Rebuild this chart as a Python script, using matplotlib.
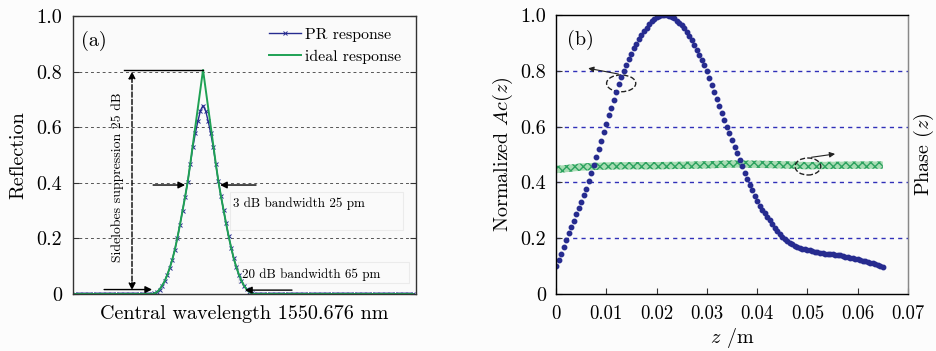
import numpy as np
import matplotlib
matplotlib.use('Agg')
import matplotlib.pyplot as plt
from matplotlib.patches import Ellipse, Rectangle

plt.rcParams['font.family'] = ['cmr10', 'DejaVu Serif']
plt.rcParams['mathtext.fontset'] = 'cm'
plt.rcParams['axes.unicode_minus'] = False

# ---- (a) reflection spectrum, offset from 1550.676 nm in pm ----
peak_offset = np.arange(-40, 42, 2)
ideal_peak = [0.000, 0.002, 0.007, 0.016, 0.030, 0.046, 0.068, 0.094, 0.124, 0.160,
              0.203, 0.250, 0.300, 0.350, 0.403, 0.468, 0.536, 0.603, 0.671, 0.738,
              0.806,
              0.738, 0.671, 0.603, 0.536, 0.468, 0.405, 0.352, 0.302, 0.254, 0.208,
              0.166, 0.128, 0.097, 0.070, 0.048, 0.030, 0.017, 0.008, 0.003, 0.000]
pr_peak = [0.000, 0.002, 0.007, 0.016, 0.030, 0.046, 0.068, 0.094, 0.124, 0.160,
           0.203, 0.250, 0.300, 0.350, 0.403, 0.466, 0.528, 0.578, 0.622, 0.660,
           0.678,
           0.660, 0.622, 0.578, 0.528, 0.466, 0.405, 0.352, 0.302, 0.254, 0.208,
           0.166, 0.128, 0.097, 0.070, 0.048, 0.030, 0.017, 0.008, 0.003, 0.000]
base_left = np.arange(-100, -40, 2)
base_right = np.arange(42, 166, 2)

wl = np.concatenate([base_left, peak_offset, base_right])
ideal = np.concatenate([np.zeros(len(base_left)), ideal_peak, np.zeros(len(base_right))])
pr = np.concatenate([np.zeros(len(base_left)), pr_peak, np.zeros(len(base_right))])

ticks_a = [0, 0.2, 0.4, 0.6, 0.8, 1.0]
ticklabels_a = ['0', '0.2', '0.4', '0.6', '0.8', '1.0']

# ---- (b) normalized Ac(z) and phase along the grating ----
z = np.round(np.arange(0, 0.06501, 0.0005), 4)
ac = [0.100, 0.122, 0.145, 0.170, 0.195, 0.218, 0.240, 0.262, 0.285, 0.307,
      0.330, 0.355, 0.378, 0.405, 0.435, 0.463, 0.492, 0.520, 0.550, 0.580,
      0.610, 0.640, 0.668, 0.697, 0.725, 0.752, 0.778, 0.800, 0.822, 0.843,
      0.862, 0.880, 0.897, 0.913, 0.928, 0.942, 0.955, 0.967, 0.978, 0.986,
      0.993, 0.997, 0.999, 1.000, 1.000, 0.998, 0.994, 0.988, 0.980, 0.972,
      0.963, 0.952, 0.940, 0.926, 0.911, 0.894, 0.876, 0.857, 0.838, 0.819,
      0.800, 0.775, 0.750, 0.725, 0.700, 0.675, 0.650, 0.625, 0.600, 0.576,
      0.552, 0.528, 0.504, 0.480, 0.457, 0.434, 0.412, 0.392, 0.372, 0.352,
      0.333, 0.316, 0.302, 0.290, 0.277, 0.264, 0.251, 0.238, 0.226, 0.215,
      0.205, 0.196, 0.190, 0.184, 0.178, 0.173, 0.169, 0.166, 0.163, 0.160,
      0.158, 0.156, 0.154, 0.152, 0.150, 0.148, 0.147, 0.145, 0.144, 0.143,
      0.142, 0.141, 0.139, 0.138, 0.136, 0.134, 0.132, 0.130, 0.128, 0.126,
      0.124, 0.122, 0.120, 0.117, 0.115, 0.112, 0.110, 0.107, 0.104, 0.101,
      0.098]
phase_z = [0.0, 0.005, 0.01, 0.015, 0.02, 0.025, 0.03, 0.035, 0.04, 0.045,
           0.05, 0.055, 0.06, 0.065]
phase = [0.446, 0.455, 0.459, 0.460, 0.460, 0.461, 0.463, 0.466, 0.465, 0.463,
         0.460, 0.461, 0.462, 0.462]

ticks_bx = [0, 0.01, 0.02, 0.03, 0.04, 0.05, 0.06, 0.07]
ticklabels_bx = ['0', '0.01', '0.02', '0.03', '0.04', '0.05', '0.06', '0.07']
grid_b = [0.2, 0.4, 0.6, 0.8]

blue = '#262b8f'
green = '#1fa154'
fs = 14.5

fig = plt.figure(figsize=(9.37, 3.51), dpi=100, facecolor='#fcfcfc')

# ================= panel (a) =================
ax = fig.add_axes([73 / 937, 57 / 351, 343 / 937, 278 / 351], facecolor='#fafafa')
ax.plot(wl, pr, color=blue, lw=1.0, marker='x', ms=2.6, mew=0.7, label='PR response')
ax.plot(wl, ideal, color=green, lw=1.4, label='ideal response')
ax.set_xlim(-101.6, 166.4)
ax.set_ylim(0, 1.0)
ax.set_xticks([])
ax.set_yticks(ticks_a)
ax.set_yticklabels(ticklabels_a)
ax.tick_params(axis='y', direction='in', length=4, pad=8, labelsize=fs,
               right=True, color='#333333')
ax.grid(axis='y', color='#555555', ls=(0, (3, 3)), lw=0.7)
for s in ax.spines.values():
    s.set_color('#333333')
    s.set_linewidth(1.0)
ax.set_ylabel('Reflection', fontsize=fs, labelpad=6)
ax.set_xlabel('Central wavelength 1550.676 nm', fontsize=fs, labelpad=8)
ax.text(0.022, 0.945, '(a)', transform=ax.transAxes, fontsize=fs, va='top')
ax.legend(loc='upper left', bbox_to_anchor=(0.571, 0.958), frameon=False,
          fontsize=11.4, handlelength=2.0, handletextpad=0.3, labelspacing=0.5,
          borderpad=0, borderaxespad=0)

arr = dict(arrowstyle='-|>', color='k', lw=1.0, mutation_scale=10, shrinkA=0, shrinkB=0)
ax.plot([-61.7, 0], [0.806, 0.806], color='k', lw=1.0)
ax.annotate('', xy=(-55.5, 0.80), xytext=(-55.5, 0.014),
            arrowprops=dict(arrowstyle='<|-|>', color='k', lw=1.0, ls='--',
                            mutation_scale=10, shrinkA=0, shrinkB=0))
ax.text(-66.4, 0.42, 'Sidelobes suppression 25 dB', rotation=90, fontsize=9.9,
        ha='center', va='center')
ax.annotate('', xy=(-39.8, 0.016), xytext=(-77.3, 0.016), arrowprops=arr)
ax.annotate('', xy=(32.8, 0.014), xytext=(69.5, 0.014), arrowprops=arr)
ax.annotate('', xy=(-14, 0.392), xytext=(-39, 0.392), arrowprops=arr)
ax.annotate('', xy=(13.3, 0.392), xytext=(41.4, 0.392), arrowprops=arr)
ax.add_patch(Rectangle((21, 0.23), 135, 0.137, fill=False, ec='#ebebeb', lw=0.8))
ax.text(23.4, 0.324, '3 dB bandwidth 25 pm', fontsize=9.4, va='center')
ax.add_patch(Rectangle((27, 0.04), 134, 0.075, fill=False, ec='#ebebeb', lw=0.8))
ax.text(30.5, 0.068, '20 dB bandwidth 65 pm', fontsize=9.4, va='center')

# ================= panel (b) =================
bx = fig.add_axes([556 / 937, 57 / 351, 352 / 937, 279 / 351], facecolor='#fafafa')
for g in grid_b:
    bx.axhline(g, color='#3030b8', ls=(0, (3, 3)), lw=1.0, zorder=0.5)
bx.fill_between(phase_z, np.array(phase) - 0.013, np.array(phase) + 0.013,
                facecolor='#a8dcb3', edgecolor='#2ca25f', hatch='xxxx', lw=0)
bx.plot(z, ac, ls='none', marker='o', ms=3.2, color=blue, mec=blue)
bx.set_xlim(0, 0.07)
bx.set_ylim(0, 1.0)
bx.set_xticks(ticks_bx)
bx.set_xticklabels(ticklabels_bx)
bx.set_yticks(ticks_a)
bx.set_yticklabels(ticklabels_a)
bx.tick_params(axis='y', direction='in', length=4, pad=7, labelsize=fs, color='#333333')
bx.tick_params(axis='x', direction='in', length=4, pad=8, labelsize=13.5, color='#333333')
for s in bx.spines.values():
    s.set_color('#333333')
    s.set_linewidth(1.0)
bx.spines['right'].set_color('#888888')
bx.set_ylabel('Normalized $Ac(z)$', fontsize=fs, labelpad=4)
bx.set_xlabel('$z$ /m', fontsize=fs, labelpad=2)
bx.text(0.03, 0.945, '(b)', transform=bx.transAxes, fontsize=fs, va='top')

small = dict(arrowstyle='-|>', color='#222222', lw=0.8, mutation_scale=8, shrinkA=0, shrinkB=0)
bx.add_patch(Ellipse((0.01296, 0.755), 0.0058, 0.06, fill=False, ls='--', lw=1.0, ec='#222222'))
bx.annotate('', xy=(0.0064, 0.809), xytext=(0.0124, 0.7885), arrowprops=small)
bx.add_patch(Ellipse((0.0501, 0.457), 0.0051, 0.061, fill=False, ls='--', lw=1.0, ec='#222222'))
bx.annotate('', xy=(0.0555, 0.502), xytext=(0.0508, 0.49), arrowprops=small)

bx2 = bx.twinx()
bx2.set_yticks([])
bx2.spines['right'].set_color('#888888')
bx2.set_ylabel('Phase ($z$)', fontsize=fs, labelpad=3)

fig.savefig('out.png', dpi=100, facecolor=fig.get_facecolor())
